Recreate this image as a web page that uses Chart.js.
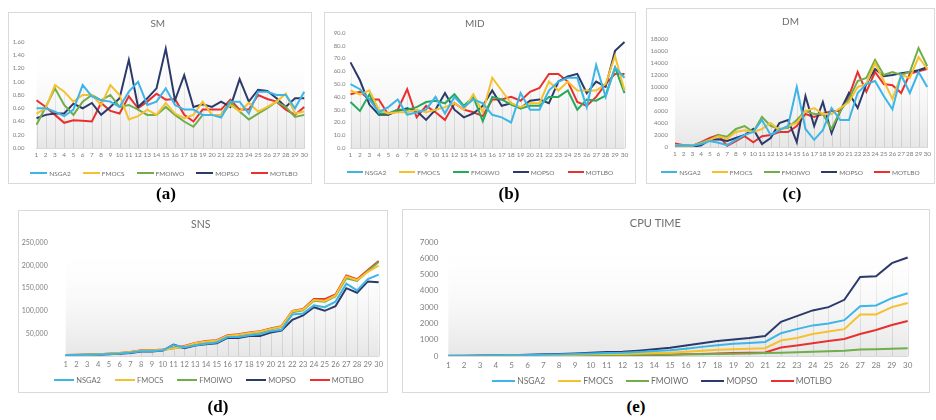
<!DOCTYPE html>
<html>
<head>
<meta charset="utf-8">
<script src="https://cdn.jsdelivr.net/npm/chart.js@4.4.1/dist/chart.umd.min.js"></script>
<style>
  body { margin: 0; width: 936px; height: 420px; position: relative; overflow: hidden; background: #fff; font-family: Lato, sans-serif; }
  .panel { position: absolute; border: 1px solid #d9d9d9; box-sizing: border-box; background: #fff; }
  .panel canvas { display: block; position: absolute; left: 0; top: 0; }
  .legend { position: absolute; left: 0; right: 0; display: flex; justify-content: center; align-items: center; color: #6e6e6e; white-space: nowrap; }
  .legend span.item { display: flex; align-items: center; }
  .legend i { display: inline-block; height: 2px; }
  .cap { position: absolute; transform: translate(-50%, -50%); font-family: "Liberation Serif", "DejaVu Serif", serif; font-weight: bold; font-size: 17px; color: #000; }
</style>
</head>
<body>
<div class="panel" style="left:8px;top:12px;width:304px;height:172px"><canvas id="sm"></canvas></div>
<div class="panel" style="left:324px;top:12px;width:312px;height:172px"><canvas id="mid"></canvas></div>
<div class="panel" style="left:646px;top:8px;width:289px;height:176px"><canvas id="dm"></canvas></div>
<div class="panel" style="left:18px;top:210px;width:370px;height:183px"><canvas id="sns"></canvas></div>
<div class="panel" style="left:402px;top:209px;width:528px;height:184px"><canvas id="cpu"></canvas></div>
<div class="cap" style="left:166px;top:194px">(a)</div>
<div class="cap" style="left:509px;top:194px">(b)</div>
<div class="cap" style="left:792px;top:194px">(c)</div>
<div class="cap" style="left:218px;top:407px">(d)</div>
<div class="cap" style="left:636px;top:407px">(e)</div>
<script>
const categories = ['1','2','3','4','5','6','7','8','9','10','11','12','13','14','15',
  '16','17','18','19','20','21','22','23','24','25','26','27','28','29','30'];
const seriesNames = ['NSGA2', 'FMOCS', 'FMOIWO', 'MOPSO', 'MOTLBO'];
const seriesColors = ['#3db5e6', '#f6c12f', '#6fae4a', '#2b3a6a', '#e8312f'];

// SM
const smNSGA2  = [0.60,0.60,0.55,0.48,0.58,0.95,0.78,0.72,0.70,0.62,0.85,1.00,0.65,0.70,0.90,0.65,0.58,0.58,0.50,0.50,0.46,0.70,0.70,0.52,0.85,0.85,0.80,0.80,0.60,0.85];
const smFMOCS  = [0.52,0.60,0.95,0.85,0.70,0.80,0.80,0.65,0.95,0.80,0.43,0.48,0.58,0.50,0.68,0.52,0.45,0.50,0.70,0.50,0.50,0.65,0.55,0.68,0.55,0.62,0.70,0.82,0.52,0.55];
const smFMOIWO = [0.35,0.62,0.90,0.65,0.50,0.70,0.80,0.72,0.80,0.62,0.65,0.58,0.50,0.50,0.62,0.50,0.40,0.32,0.50,0.50,0.50,0.70,0.55,0.43,0.52,0.60,0.70,0.62,0.47,0.50];
const smMOPSO  = [0.45,0.50,0.52,0.52,0.67,0.60,0.68,0.50,0.62,0.75,1.33,0.62,0.75,0.90,1.50,0.72,1.10,0.62,0.66,0.62,0.70,0.62,1.04,0.70,0.88,0.86,0.75,0.62,0.75,0.75];
const smMOTLBO = [0.72,0.62,0.50,0.38,0.42,0.41,0.40,0.68,0.56,0.52,0.78,0.60,0.70,0.82,0.73,0.74,0.50,0.40,0.58,0.58,0.58,0.73,0.58,0.58,0.80,0.74,0.70,0.58,0.50,0.62];

// MID
const midNSGA2  = [50,46,38,28,32,38,26,28,30,40,27,40,32,38,35,26,24,20,43,30,30,45,52,55,55,32,65,40,63,55];
const midFMOCS  = [45,42,45,30,27,28,28,30,28,30,32,35,30,42,28,55,45,35,32,35,35,52,45,52,45,45,45,50,72,45];
const midFMOIWO = [36,29,42,27,27,30,30,32,36,37,35,42,33,40,21,40,38,34,31,33,33,40,40,45,30,38,37,41,63,43];
const midMOPSO  = [67,53,34,26,26,29,31,29,22,30,43,30,24,27,33,45,33,35,31,37,38,35,52,56,58,43,52,48,76,83];
const midMOTLBO = [42,44,38,38,26,30,46,24,33,28,22,35,30,28,25,38,38,40,37,44,47,58,58,52,36,33,40,50,58,58];

// DM
const dmNSGA2  = [200,300,200,500,1000,700,300,1200,2000,2500,4500,2000,2800,3500,10000,3000,1200,2800,6500,4500,4500,9000,10500,11000,8500,6300,12000,9000,12500,10000];
const dmFMOCS  = [300,200,200,600,1200,1800,1400,2500,2800,2500,3000,4000,2800,3500,4000,6000,6500,5500,5500,6500,7500,10000,10500,14000,11000,8000,12000,11500,15000,13000];
const dmFMOIWO = [100,300,200,700,1200,2000,1700,3000,3500,2500,5000,3500,3000,3200,4500,6000,5500,5500,3000,6000,8000,11000,11500,14500,12000,12500,12000,12500,16500,13500];
const dmMOPSO  = [0,200,0,300,1200,1300,1000,1500,2000,3000,500,1500,4000,4500,800,8500,3500,7500,2300,6000,9000,6500,10500,13000,11800,12000,12300,12500,12800,13300];
const dmMOTLBO = [600,300,200,800,1500,2000,200,1000,1800,800,1800,2000,2500,2500,3500,5500,5000,5500,6000,6000,8500,12500,9200,12500,10500,10300,9000,12200,12600,13000];

// SNS
const snsNSGA2  = [2000,2200,2800,3500,4500,5500,7500,10500,10500,12500,24000,19000,24000,27000,30000,42000,42000,46000,48000,55000,58000,92000,94000,112000,108000,120000,160000,145000,170000,180000];
const snsFMOCS  = [2000,2500,3000,4000,5000,6500,9000,12000,12000,14000,17000,21000,28000,32000,34000,45000,47000,51000,54000,60000,65000,99000,103000,124000,122000,134000,176000,168000,186000,200000];
const snsFMOIWO = [2000,2400,3000,3800,5000,6200,8500,11500,11500,13500,17000,20000,27000,31000,33000,44000,46000,50000,52000,59000,64000,97000,101000,122000,120000,132000,172000,166000,188000,208000];
const snsMOPSO  = [1500,2000,2500,3000,4000,5000,6500,10000,10000,12000,25000,17000,23000,26000,28000,40000,40000,44000,44000,52000,56000,80000,90000,108000,100000,110000,150000,140000,165000,163000];
const snsMOTLBO = [2000,2500,3000,4000,5000,6500,9000,12500,12500,14500,17500,22000,29000,33000,35000,46000,48000,52000,55000,61000,66000,100000,104000,126000,126000,136000,178000,170000,190000,210000];

// CPU TIME
const cpuNSGA2  = [5,10,15,25,35,50,70,90,120,150,180,200,250,300,350,450,560,660,750,800,860,1400,1650,1880,2000,2200,3050,3100,3550,3850];
const cpuFMOCS  = [5,8,12,18,25,35,45,60,80,100,120,130,160,180,200,260,320,380,420,450,480,950,1100,1350,1500,1650,2550,2550,3000,3250];
const cpuFMOIWO = [2,4,6,8,10,14,18,24,30,40,50,60,70,80,90,100,110,120,140,160,180,200,230,260,290,320,400,420,440,470];
const cpuMOPSO  = [10,20,30,40,50,70,100,130,160,200,240,260,330,420,500,650,780,920,1020,1100,1230,2100,2450,2800,3000,3450,4850,4900,5700,6050];
const cpuMOTLBO = [3,5,8,10,12,15,20,25,30,35,40,45,55,65,80,100,120,150,180,200,220,520,650,780,920,1050,1350,1600,1900,2150];

// faint gradient + drop lines behind the lines
const plotShade = {
  id: 'plotShade',
  beforeDatasetsDraw(chart) {
    const { ctx, chartArea: a, scales: { x, y } } = chart;
    ctx.save();
    const g = ctx.createLinearGradient(0, a.top, 0, a.bottom);
    g.addColorStop(0, 'rgba(255,255,255,0)');
    g.addColorStop(0.45, 'rgba(245,245,245,0.5)');
    g.addColorStop(1, 'rgba(226,226,226,0.85)');
    ctx.fillStyle = g;
    ctx.fillRect(a.left, a.top, a.width, a.height);
    const sg = ctx.createLinearGradient(0, a.top, 0, a.bottom);
    sg.addColorStop(0, 'rgba(215,215,215,0)');
    sg.addColorStop(1, 'rgba(205,205,205,0.9)');
    ctx.strokeStyle = sg;
    ctx.lineWidth = 1;
    chart.data.labels.forEach((lab, i) => {
      const top = Math.max(...chart.data.datasets.map(d => d.data[i]));
      const px = Math.round(x.getPixelForValue(i)) + 0.5;
      ctx.beginPath();
      ctx.moveTo(px, y.getPixelForValue(0));
      ctx.lineTo(px, y.getPixelForValue(top));
      ctx.stroke();
    });
    ctx.restore();
  }
};

// legend as html under the plot, built from the chart's datasets
function addLegend(chart, box, o) {
  const lg = document.createElement('div');
  lg.className = 'legend';
  lg.style.top = (o.legendY - 10) + 'px';
  lg.style.height = '20px';
  lg.style.gap = o.legendGap + 'px';
  lg.style.fontSize = o.legendSize + 'px';
  if (o.legendShift) lg.style.transform = 'translateX(' + o.legendShift + 'px)';
  chart.data.datasets.forEach(ds => {
    const it = document.createElement('span');
    it.className = 'item';
    const ln = document.createElement('i');
    ln.style.width = o.legendBox + 'px';
    ln.style.background = ds.borderColor;
    ln.style.marginRight = '2px';
    const tx = document.createElement('span');
    tx.textContent = ds.label;
    it.appendChild(ln);
    it.appendChild(tx);
    lg.appendChild(it);
  });
  box.appendChild(lg);
}

function makeChart(id, title, data, o) {
  const el = document.getElementById(id);
  const box = el.parentElement;
  const W = box.clientWidth, H = box.clientHeight;
  el.width = W; el.height = H;
  const tH = o.titleSize * 1.2;
  const tTop = o.titleY - tH / 2;
  const colors = o.colors || seriesColors;

  const chart = new Chart(el, {
    type: 'line',
    data: {
      labels: categories,
      datasets: seriesNames.map((n, i) => ({
        label: n,
        data: data[i],
        borderColor: colors[i],
        backgroundColor: colors[i],
        borderWidth: o.lineWidth || 2,
        pointRadius: 0,
        tension: 0
      }))
    },
    options: {
      responsive: false,
      animation: false,
      layout: { padding: { left: 0, right: o.padRight, top: 0, bottom: 0 } },
      plugins: {
        title: {
          display: true,
          text: title,
          color: '#6e6e6e',
          font: { family: 'Lato', size: o.titleSize, weight: 'normal' },
          padding: { top: tTop, bottom: o.areaTop - tTop - tH }
        },
        legend: { display: false },
        tooltip: { enabled: false }
      },
      scales: {
        x: {
          grid: { display: false, drawTicks: false },
          border: { color: '#d9d9d9' },
          ticks: { autoSkip: false, maxRotation: 0, padding: o.xPad, color: '#7f7f7f', font: { family: 'Lato', size: o.tickSize } },
          afterFit: s => { s.height = H - o.areaBottom; }
        },
        y: {
          min: 0, max: o.yMax,
          grid: { display: false, drawTicks: false },
          border: { display: false },
          ticks: { stepSize: o.yStep, padding: o.yPad, color: '#7f7f7f', font: { family: 'Lato', size: o.ySize || o.tickSize }, callback: o.fmt },
          afterFit: s => { s.width = o.yWidth; }
        }
      }
    },
    plugins: [plotShade]
  });
  addLegend(chart, box, o);
  return chart;
}

makeChart('sm', 'SM', [smNSGA2, smFMOCS, smFMOIWO, smMOPSO, smMOTLBO], {
  titleSize: 10, titleY: 11, areaTop: 29, areaBottom: 135, legendY: 160, legendGap: 12, legendSize: 6.5, legendBox: 17,
  tickSize: 6.5, ySize: 6, xPad: 3, yPad: 12, yWidth: 27.5, padRight: 4.5, yMax: 1.6, yStep: 0.2,
  legendShift: 4,
  fmt: v => v.toFixed(2)
});
makeChart('mid', 'MID', [midNSGA2, midFMOCS, midFMOIWO, midMOPSO, midMOTLBO], {
  titleSize: 10, titleY: 11, areaTop: 20, areaBottom: 135, legendY: 159, legendGap: 13, legendSize: 6.5, legendBox: 16,
  tickSize: 6.5, ySize: 6, xPad: 3, yPad: 5, yWidth: 25.5, padRight: 10.5, yMax: 90, yStep: 10,
  colors: ['#3db5e6', '#f6c12f', '#27a95c', '#2b3a6a', '#e8312f'],
  fmt: v => v.toFixed(1)
});
makeChart('dm', 'DM', [dmNSGA2, dmFMOCS, dmFMOIWO, dmMOPSO, dmMOTLBO], {
  titleSize: 10, titleY: 13, areaTop: 30, areaBottom: 138, legendY: 163, legendGap: 11, legendSize: 6.5, legendBox: 16,
  tickSize: 6.5, ySize: 6, xPad: 3, yPad: 7, yWidth: 28, padRight: 0, yMax: 18000, yStep: 2000,
  fmt: v => String(v)
});
makeChart('sns', 'SNS', [snsNSGA2, snsFMOCS, snsFMOIWO, snsMOPSO, snsMOTLBO], {
  titleSize: 10.5, titleY: 14, areaTop: 32, areaBottom: 145, legendY: 169, legendGap: 14, legendSize: 7.5, legendBox: 20,
  tickSize: 7.5, ySize: 7, xPad: 4, yPad: 18, yWidth: 46.7, padRight: 4.7, yMax: 250000, yStep: 50000,
  legendShift: 6,
  fmt: v => v === 0 ? '' : v.toLocaleString('en-US')
});
makeChart('cpu', 'CPU TIME', [cpuNSGA2, cpuFMOCS, cpuFMOIWO, cpuMOPSO, cpuMOTLBO], {
  titleSize: 11, titleY: 13, areaTop: 32, areaBottom: 146, legendY: 171, legendGap: 13, legendSize: 8.5, legendBox: 23,
  tickSize: 8, ySize: 8, xPad: 5, yPad: 10, yWidth: 45.3, padRight: 21.3, yMax: 7000, yStep: 1000,
  legendShift: -4,
  fmt: v => String(v)
});
</script>
</body>
</html>
